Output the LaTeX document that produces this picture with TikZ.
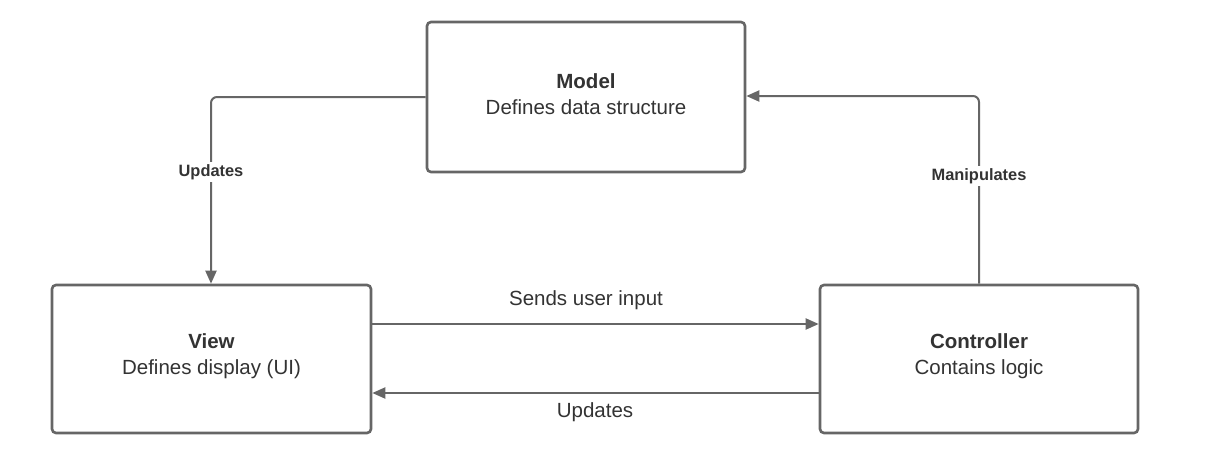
\documentclass[tikz,border=0pt]{standalone}
\usepackage{fontspec}
\setmainfont{Liberation Sans}
\usetikzlibrary{arrows.meta}
\definecolor{linegray}{HTML}{666666}
\definecolor{txt}{HTML}{333333}
\tikzset{
  box/.style={draw=linegray, line width=2.6pt, rounded corners=4pt, fill=white},
  boxtext/.style={text=txt, align=center, font=\fontsize{20.5}{26}\selectfont, inner sep=0pt},
  conn/.style={draw=linegray, line width=2pt, rounded corners=6pt, -{Triangle[length=13pt,width=11pt]}},
  blab/.style={fill=white, text=txt, font=\fontsize{16.4}{19}\selectfont\bfseries, inner sep=2pt},
  lab/.style={text=txt, font=\fontsize{20.5}{24}\selectfont, inner sep=0pt},
}
\begin{document}
\begin{tikzpicture}[x=1pt,y=-1pt]
\useasboundingbox[fill=white] (0,0) rectangle (1213,472);
\node[box, minimum width=318pt, minimum height=150pt] (model) at (586,97) {};
\node[box, minimum width=319pt, minimum height=148pt] (view) at (211.5,359) {};
\node[box, minimum width=318pt, minimum height=148pt] (ctrl) at (979,359) {};
\node[boxtext] (modeltxt) at ([yshift=3pt]model.center) {\textbf{Model}\\Defines data structure};
\node[boxtext] (viewtxt) at ([yshift=3pt]view.center) {\textbf{View}\\Defines display (UI)};
\node[boxtext] (ctrltxt) at ([yshift=3pt]ctrl.center) {\textbf{Controller}\\Contains logic};
\coordinate (c1) at (211,97);
\coordinate (c2) at (979,96);
% Model -> View
\draw[conn] (model.west) -- (c1) -- (view.north -| c1);
\node[blab] (l1) at (211,172) {Updates};
% Controller -> Model
\draw[conn] (ctrl.north) -- (c2) -- (c2 -| model.east);
\node[blab] (l2) at (979,176) {Manipulates};
% View -> Controller
\draw[conn] (view.east |- 0,324) -- (ctrl.west |- 0,324);
\node[lab] (l3) at (586,300) {Sends user input};
% Controller -> View
\draw[conn] (ctrl.west |- 0,393) -- (view.east |- 0,393);
\node[lab] (l4) at (595,412) {Updates};
\end{tikzpicture}
\end{document}
